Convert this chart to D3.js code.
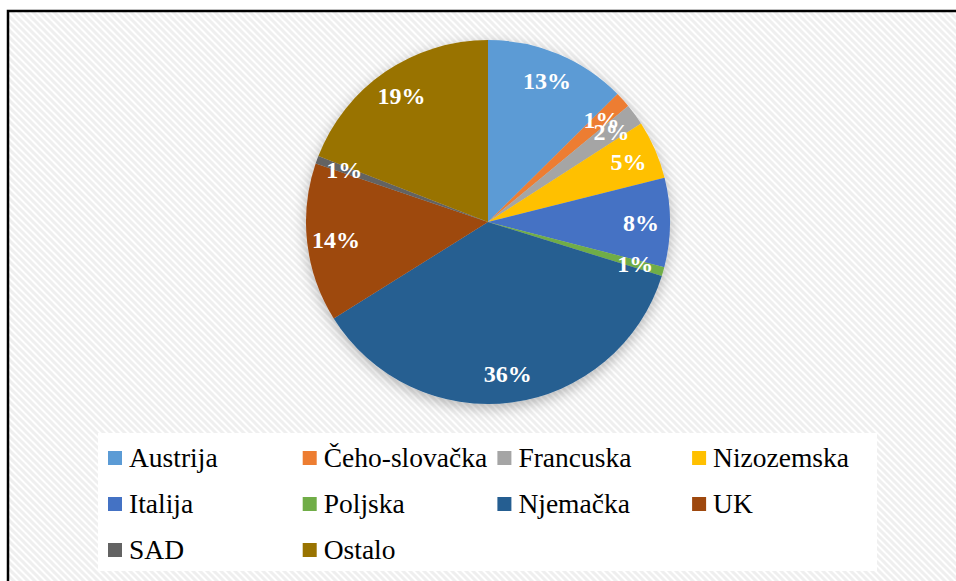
<!DOCTYPE html>
<html>
<head>
<meta charset="utf-8">
<script src="https://cdn.jsdelivr.net/npm/d3@7"></script>
<style>
  body { margin: 0; background: #fff; }
  svg { display: block; }
</style>
</head>
<body>
<div id="chart-area"></div>
<script>
// data (shares)
var countries = ["Austrija", "Čeho-slovačka", "Francuska", "Nizozemska", "Italija", "Poljska", "Njemačka", "UK", "SAD", "Ostalo"];
var shares = [12.6, 1.4, 1.9, 5.2, 7.9, 0.8, 36.3, 14.1, 0.7, 19.1];
var colors = ["#5B9BD5", "#ED7D31", "#A5A5A5", "#FFC000", "#4472C4", "#70AD47", "#255E91", "#9E480E", "#636363", "#997300"];

var width = 956, height = 581;
var cx = 488, cy = 222, radius = 182;
var serif = "'Liberation Serif', monospace";

var svg = d3.select("#chart-area").append("svg").attr("width", width).attr("height", height);
var defs = svg.append("defs");

// diagonal hatch background
var pat = defs.append("pattern").attr("id", "hatch").attr("patternUnits", "userSpaceOnUse")
    .attr("width", 7).attr("height", 7);
pat.append("rect").attr("width", 7).attr("height", 7).attr("fill", "#ffffff");
pat.append("path").attr("d", "M-1,-1 L8,8 M-8,-1 L1,8 M6,-1 L15,8")
    .attr("stroke", "#efefef").attr("stroke-width", 3);

var shadow = defs.append("filter").attr("id", "shadow").attr("x", "-20%").attr("y", "-20%")
    .attr("width", "140%").attr("height", "140%");
shadow.append("feDropShadow").attr("dx", 0).attr("dy", 4).attr("stdDeviation", 7)
    .attr("flood-color", "#000").attr("flood-opacity", 0.28);

svg.append("rect").attr("x", 8).attr("y", 11).attr("width", 980).attr("height", 600)
    .attr("fill", "url(#hatch)").attr("stroke", "#000").attr("stroke-width", 2.5);

var color = d3.scaleOrdinal().domain(countries).range(colors);
var total = d3.sum(shares);
var pct = d3.format(".0%");

var pie = d3.pie().sort(null).value(function(d) { return d.v; });
var arcs = pie(countries.map(function(c, i) { return {name: c, v: shares[i]}; }));
var arc = d3.arc().innerRadius(0).outerRadius(radius);
var labelArc = d3.arc().innerRadius(153).outerRadius(153);

var g = svg.append("g").attr("transform", "translate(" + cx + "," + cy + ")");
g.append("g").attr("filter", "url(#shadow)")
  .selectAll("path").data(arcs).enter().append("path")
    .attr("d", arc)
    .attr("fill", function(d) { return color(d.data.name); });

g.selectAll("text.lbl").data(arcs).enter().append("text")
    .attr("class", "lbl")
    .attr("transform", function(d) { return "translate(" + labelArc.centroid(d) + ")"; })
    .attr("text-anchor", "middle")
    .attr("dy", "0.35em")
    .style("font-family", serif)
    .style("font-weight", "bold")
    .style("font-size", "24px")
    .attr("fill", "#fff")
    .text(function(d) { return pct(d.data.v / total); });

// legend
svg.append("rect").attr("x", 98).attr("y", 433).attr("width", 779).attr("height", 138).attr("fill", "#fff");

var legend = svg.append("g");
countries.forEach(function(c, i) {
  var col = i % 4, row = Math.floor(i / 4);
  var item = legend.append("g").attr("transform", "translate(" + (108 + col * 194.7) + "," + (458 + row * 46) + ")");
  item.append("rect").attr("x", 0).attr("y", -7).attr("width", 14).attr("height", 14).attr("fill", color(c));
  item.append("text").attr("x", 21).attr("y", 9)
      .style("font-family", serif)
      .style("font-size", "27.5px").attr("fill", "#000")
      .text(c);
});
</script>
</body>
</html>
